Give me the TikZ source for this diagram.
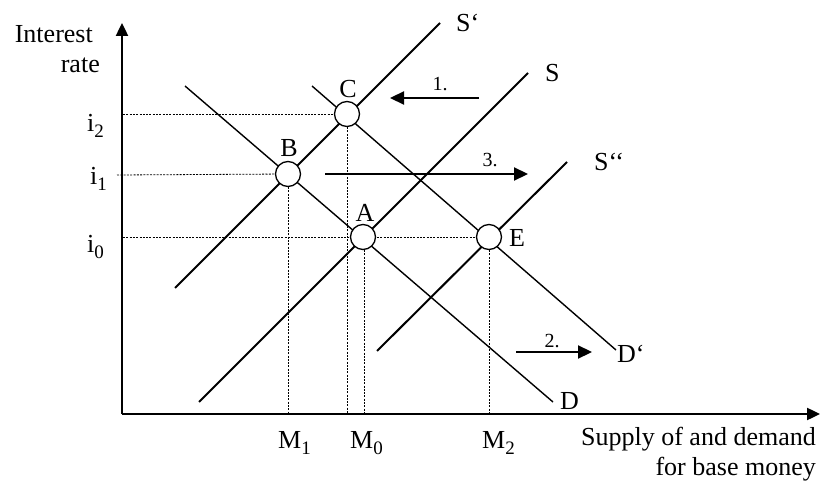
\documentclass[tikz,border=0pt]{standalone}
\usepackage{fontspec}
\setmainfont{Liberation Serif}
\usetikzlibrary{arrows.meta}
\newcommand{\lowsub}[1]{\raisebox{-6pt}{\fontsize{19}{20}\selectfont #1}}
\begin{document}
\begin{tikzpicture}[x=1pt,y=-1pt,
  txt/.style={inner sep=0pt,font=\fontsize{26}{30}\selectfont},
  small/.style={inner sep=0pt,font=\fontsize{20}{24}\selectfont},
  axisline/.style={line width=2.4pt,-{Triangle[length=13pt,width=12pt]}},
  supply/.style={line width=2pt},
  demand/.style={line width=1.4pt},
  guide/.style={line width=0.8pt,dash pattern=on 2pt off 1.3pt},
  shiftarrow/.style={line width=2.2pt,-{Triangle[length=14pt,width=13pt]}},
  eqpoint/.style={circle,draw,fill=white,line width=1.3pt,minimum size=25pt,inner sep=0pt}]
\useasboundingbox (0,0) rectangle (822,481);
% axes
\coordinate (O) at (122,414);
\coordinate (Ytop) at (122,23);
\coordinate (Xend) at (820,414);
% equilibrium centres
\coordinate (pA) at (363,237);
\coordinate (pB) at (288,174);
\coordinate (pC) at (347,114);
\coordinate (pE) at (489,237);
% curve end points
\coordinate (Sp1) at (175,288);  \coordinate (Sp2) at (440,23);
\coordinate (S1) at (199,402);   \coordinate (S2) at (528,73);
\coordinate (Spp1) at (377,351); \coordinate (Spp2) at (567,162);
\coordinate (D1) at (185,86);    \coordinate (D2) at (553,402);
\coordinate (Dp1) at (312,86);   \coordinate (Dp2) at (616,350);
% guide start points on axes
\coordinate (y2) at (123,114);
\coordinate (y1) at (117,175);
\coordinate (y0) at (123,237);
\coordinate (xB) at (288,414);
\coordinate (xC) at (347,414);
\coordinate (xA) at (364,414);
\coordinate (xE) at (489,414);
\coordinate (pA1) at (364,237);
% shift arrow ends
\coordinate (a1s) at (479,98);  \coordinate (a1e) at (390,98);
\coordinate (a3s) at (325,174); \coordinate (a3e) at (528,174);
\coordinate (a2s) at (516,352); \coordinate (a2e) at (592,352);

% guides
\draw[guide] (y2) -- (pC);
\draw[guide] (y1) -- (pB);
\draw[guide] (y0) -- (pE);
\draw[guide] (pB) -- (xB);
\draw[guide] (pC) -- (xC);
\draw[guide] (pA1) -- (xA);
\draw[guide] (pE) -- (xE);

% curves
\draw[supply] (Sp1) -- (Sp2);
\draw[supply] (S1) -- (S2);
\draw[supply] (Spp1) -- (Spp2);
\draw[demand] (D1) -- (D2);
\draw[demand] (Dp1) -- (Dp2);

% axes
\draw[axisline] (O) -- (Ytop);
\draw[axisline] (O) -- (Xend);

% circles on top
\node[eqpoint] (A) at (pA) {};
\node[eqpoint] (B) at (pB) {};
\node[eqpoint] (C) at (pC) {};
\node[eqpoint] (E) at (pE) {};

% shift arrows
\draw[shiftarrow] (a1s) -- (a1e);
\draw[shiftarrow] (a3s) -- (a3e);
\draw[shiftarrow] (a2s) -- (a2e);
\node[small,anchor=base] (n1) at (440,91) {1.};
\node[small,anchor=base] (n3) at (490,167) {3.};
\node[small,anchor=base] (n2) at (552,347) {2.};

% point labels
\node[txt,anchor=base] (lA) at (365,222) {A};
\node[txt,anchor=base] (lB) at (289,157) {B};
\node[txt,anchor=base] (lC) at (348,98) {C};
\node[txt,anchor=base west] (lE) at (509,247) {E};

% curve labels
\node[txt,anchor=base west] (lSp) at (456,32) {S‘};
\node[txt,anchor=base west] (lS) at (545,82) {S};
\node[txt,anchor=base west] (lSpp) at (594,171) {S‘‘};
\node[txt,anchor=base west] (lD) at (560,409) {D};
\node[txt,anchor=base west] (lDp) at (617,362) {D‘};

% axis tick labels
\node[txt,anchor=base east] (i2) at (104,132) {i\lowsub{2}};
\node[txt,anchor=base east] (i1) at (107,185) {i\lowsub{1}};
\node[txt,anchor=base east] (i0) at (104,252) {i\lowsub{0}};
\node[txt,anchor=base west] (M1) at (278,448) {M\lowsub{1}};
\node[txt,anchor=base west] (M0) at (350,448) {M\lowsub{0}};
\node[txt,anchor=base west] (M2) at (482,448) {M\lowsub{2}};

% axis titles
\node[txt,align=right,anchor=north east] (ylab) at (100,25) {Interest\hspace*{7pt}\\rate};
\node[txt,align=right,anchor=north east] (xlab) at (816,427) {Supply of and demand\\for base money};
\end{tikzpicture}
\end{document}
